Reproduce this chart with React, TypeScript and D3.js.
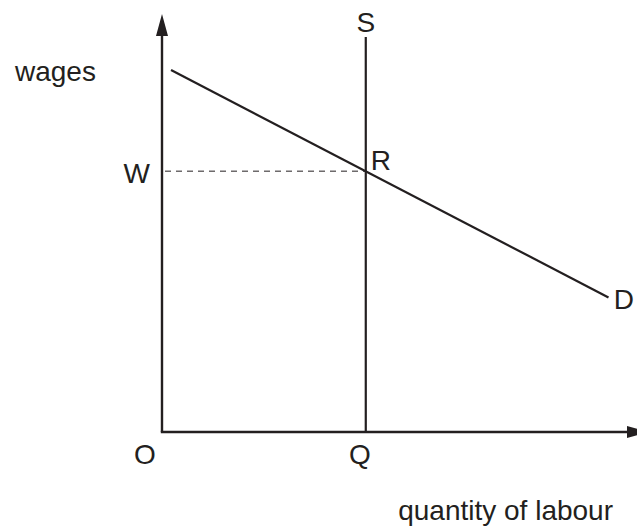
import React from 'react';
import * as d3 from 'd3';

// quantity / wage units (0..10 on both axes)
const demandCurve = [
  { q: 0.19, w: 8.66 },
  { q: 9.4, w: 3.22 },
];
const supplyCurve = [
  { q: 4.29, w: 0 },
  { q: 4.29, w: 9.45 },
];
const equilibrium = { q: 4.29, w: 6.24 };
const curveLabels = ['S', 'D', 'R'];
const axisLabels = ['wages', 'quantity of labour'];
const pointLabels = ['O', 'Q', 'W'];

const width = 637;
const height = 527;
const ink = '#231f20';
const font = '"Liberation Sans", Arial, sans-serif';

const App = () => {
  const x = d3.scaleLinear().domain([0, 10]).range([162, 637]);
  const y = d3.scaleLinear().domain([0, 10]).range([432, 14]);

  const line = d3
    .line<{ q: number; w: number }>()
    .x(d => x(d.q))
    .y(d => y(d.w));

  const x0 = x(0);
  const y0 = y(0);
  const yTop = 14;
  const xEnd = 649;

  const textStyle = { fontFamily: font, fontSize: 28, fill: ink };

  return (
    <svg
      width={width}
      height={height}
      style={{ position: 'absolute', left: 0, top: 0, background: '#fff' }}
    >
      {/* axes */}
      <line x1={x0} y1={y0} x2={x0} y2={yTop + 18} stroke={ink} strokeWidth={2.4} />
      <path d={`M${x0},${yTop} L${x0 - 6},${yTop + 22} L${x0 + 6},${yTop + 22} Z`} fill={ink} />
      <line x1={x0 - 1.2} y1={y0} x2={xEnd - 18} y2={y0} stroke={ink} strokeWidth={2.4} />
      <path d={`M${xEnd},${y0} L${xEnd - 22},${y0 - 6} L${xEnd - 22},${y0 + 6} Z`} fill={ink} />

      {/* wage guide */}
      <line
        x1={x0 + 3}
        y1={y(equilibrium.w)}
        x2={x(equilibrium.q)}
        y2={y(equilibrium.w)}
        stroke={ink}
        strokeWidth={1}
        strokeDasharray="6 5"
      />

      {/* supply and demand */}
      <path d={line(supplyCurve) || ''} fill="none" stroke={ink} strokeWidth={2.2} />
      <path d={line(demandCurve) || ''} fill="none" stroke={ink} strokeWidth={2.2} />

      {/* labels */}
      <text x={x(supplyCurve[1].q)} y={32} textAnchor="middle" style={textStyle}>
        {curveLabels[0]}
      </text>
      <text x={634} y={309} textAnchor="end" style={textStyle}>
        {curveLabels[1]}
      </text>
      <text x={x(equilibrium.q) + 5} y={y(equilibrium.w) - 1} style={textStyle}>
        {curveLabels[2]}
      </text>
      <text x={15} y={81} style={textStyle}>
        {axisLabels[0]}
      </text>
      <text x={613} y={520} textAnchor="end" style={textStyle}>
        {axisLabels[1]}
      </text>
      <text x={145} y={464} textAnchor="middle" style={textStyle}>
        {pointLabels[0]}
      </text>
      <text x={x(equilibrium.q) - 6} y={464} textAnchor="middle" style={textStyle}>
        {pointLabels[1]}
      </text>
      <text x={150} y={183} textAnchor="end" style={textStyle}>
        {pointLabels[2]}
      </text>
    </svg>
  );
};

export default App;
